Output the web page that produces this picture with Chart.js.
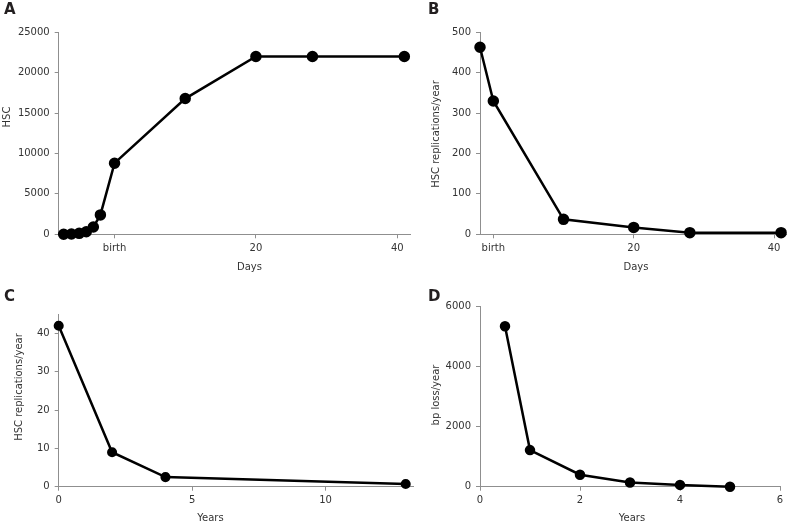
<!DOCTYPE html>
<html>
<head>
<meta charset="utf-8">
<script src="https://cdn.jsdelivr.net/npm/chart.js@4.4.1/dist/chart.umd.min.js"></script>
<style>
  html, body { margin: 0; padding: 0; background: #fff; }
  body { width: 793px; height: 528px; position: relative; overflow: hidden; font-family: "DejaVu Sans", sans-serif; }
  canvas { position: absolute; }
  .lbl { position: absolute; font-family: "DejaVu Sans", sans-serif; font-weight: bold; font-size: 15px; line-height: 15px; color: #231f20; }
  .xt { position: absolute; font-size: 10px; line-height: 12px; color: #333; white-space: nowrap; transform: translateX(-50%); }
  .yt { position: absolute; font-size: 10px; line-height: 12px; color: #333; white-space: nowrap; transform: translate(-50%, -50%) rotate(-90deg); }
</style>
</head>
<body>
<canvas id="cA" width="420" height="270" style="left:0;top:0"></canvas>
<canvas id="cB" width="373" height="270" style="left:420px;top:0"></canvas>
<canvas id="cC" width="420" height="258" style="left:0;top:270px"></canvas>
<canvas id="cD" width="373" height="258" style="left:420px;top:270px"></canvas>

<div class="lbl" style="left:4px;top:2px">A</div>
<div class="lbl" style="left:428px;top:2px">B</div>
<div class="lbl" style="left:4px;top:289px">C</div>
<div class="lbl" style="left:428px;top:289px">D</div>

<div class="yt" style="left:6.5px;top:117px">HSC</div>
<div class="xt" style="left:249.5px;top:261px">Days</div>
<div class="yt" style="left:435.5px;top:134px">HSC replications/year</div>
<div class="xt" style="left:636px;top:261px">Days</div>
<div class="yt" style="left:19px;top:387px">HSC replications/year</div>
<div class="xt" style="left:210.5px;top:511.5px">Years</div>
<div class="yt" style="left:435.5px;top:395px">bp loss/year</div>
<div class="xt" style="left:632px;top:511.5px">Years</div>

<script>
// ---- data ----
const daysA = [-7.2, -6.1, -5, -4, -3, -2, 0, 10, 20, 28, 41];
const hscA  = [0, 30, 120, 320, 900, 2400, 8800, 16800, 22000, 22000, 22000];

const daysB = [-1.9, 0, 10, 20, 28, 41];
const replB = [463, 330, 37, 17, 4, 4];

const yearsC = [0, 2, 4, 13];
const replC  = [42, 9, 2.5, 0.7];

const yearsD = [0.5, 1, 2, 3, 4, 5];
const bpD    = [5350, 1220, 400, 140, 60, 0];

// ---- tick labels ----
const dayTicks = [0, 20, 40];
const dayTickLabels = ['birth', '20', '40'];
const hscTicks = [0, 5000, 10000, 15000, 20000, 25000];
const replBTicks = [0, 100, 200, 300, 400, 500];
const yearCTicks = [0, 5, 10];
const replCTicks = [0, 10, 20, 30, 40];
const yearDTicks = [0, 2, 4, 6];
const bpDTicks = [0, 2000, 4000, 6000];

const AXIS = '#8f8f8f';
const TXT = '#333';
const FONT = { family: 'DejaVu Sans', size: 10 };

function axis(min, max, ticks, labels, fixedSize, horizontal) {
  return {
    type: 'linear',
    min: min, max: max,
    afterBuildTicks: s => { s.ticks = ticks.map(v => ({ value: v })); },
    afterFit: s => { if (horizontal) s.height = fixedSize; else s.width = fixedSize; },
    grid: { drawOnChartArea: false, drawTicks: true, tickLength: 4, color: AXIS, lineWidth: 1 },
    border: { color: AXIS, width: 1 },
    ticks: {
      color: TXT, font: FONT, padding: horizontal ? 4 : 5, autoSkip: false, maxRotation: 0,
      callback: (v) => {
        if (labels) { const i = ticks.indexOf(v); return i >= 0 ? labels[i] : ''; }
        return String(v);
      }
    }
  };
}

function makeChart(id, xs, ys, xScale, yScale, pad, radius, lw) {
  const pts = xs.map((x, i) => ({ x: x, y: ys[i] }));
  new Chart(document.getElementById(id), {
    type: 'scatter',
    data: { datasets: [{
      data: pts, showLine: true, borderColor: '#000', backgroundColor: '#000',
      borderWidth: lw, pointRadius: radius, pointHoverRadius: radius, clip: false, tension: 0
    }] },
    options: {
      responsive: false, animation: false, devicePixelRatio: 1,
      layout: { padding: pad },
      plugins: { legend: { display: false }, tooltip: { enabled: false } },
      scales: { x: xScale, y: yScale }
    }
  });
}

// Panel A
makeChart('cA', daysA, hscA,
  axis(-7.9, 41.8, dayTicks, dayTickLabels, 35.7, true),
  axis(0, 25000, hscTicks, null, 58.7, false),
  { left: 0, right: 10, top: 32.3, bottom: 0 }, 4.5, 2.5);

// Panel B
makeChart('cB', daysB, replB,
  axis(-1.9, 41.7, dayTicks, dayTickLabels, 35.7, true),
  axis(0, 500, replBTicks, null, 60, false),
  { left: 0, right: 1.3, top: 32.3, bottom: 0 }, 4.5, 2.5);

// Panel C
makeChart('cC', yearsC, replC,
  axis(0, 13.3, yearCTicks, null, 41.3, true),
  axis(0, 45, replCTicks, null, 58.7, false),
  { left: 0, right: 3, top: 44.3, bottom: 0 }, 3.8, 2.5);

// Panel D
makeChart('cD', yearsD, bpD,
  axis(0, 6, yearDTicks, null, 41.3, true),
  axis(0, 6000, bpDTicks, null, 60, false),
  { left: 0, right: 13, top: 36.7, bottom: 0 }, 4, 2.5);
</script>
</body>
</html>
